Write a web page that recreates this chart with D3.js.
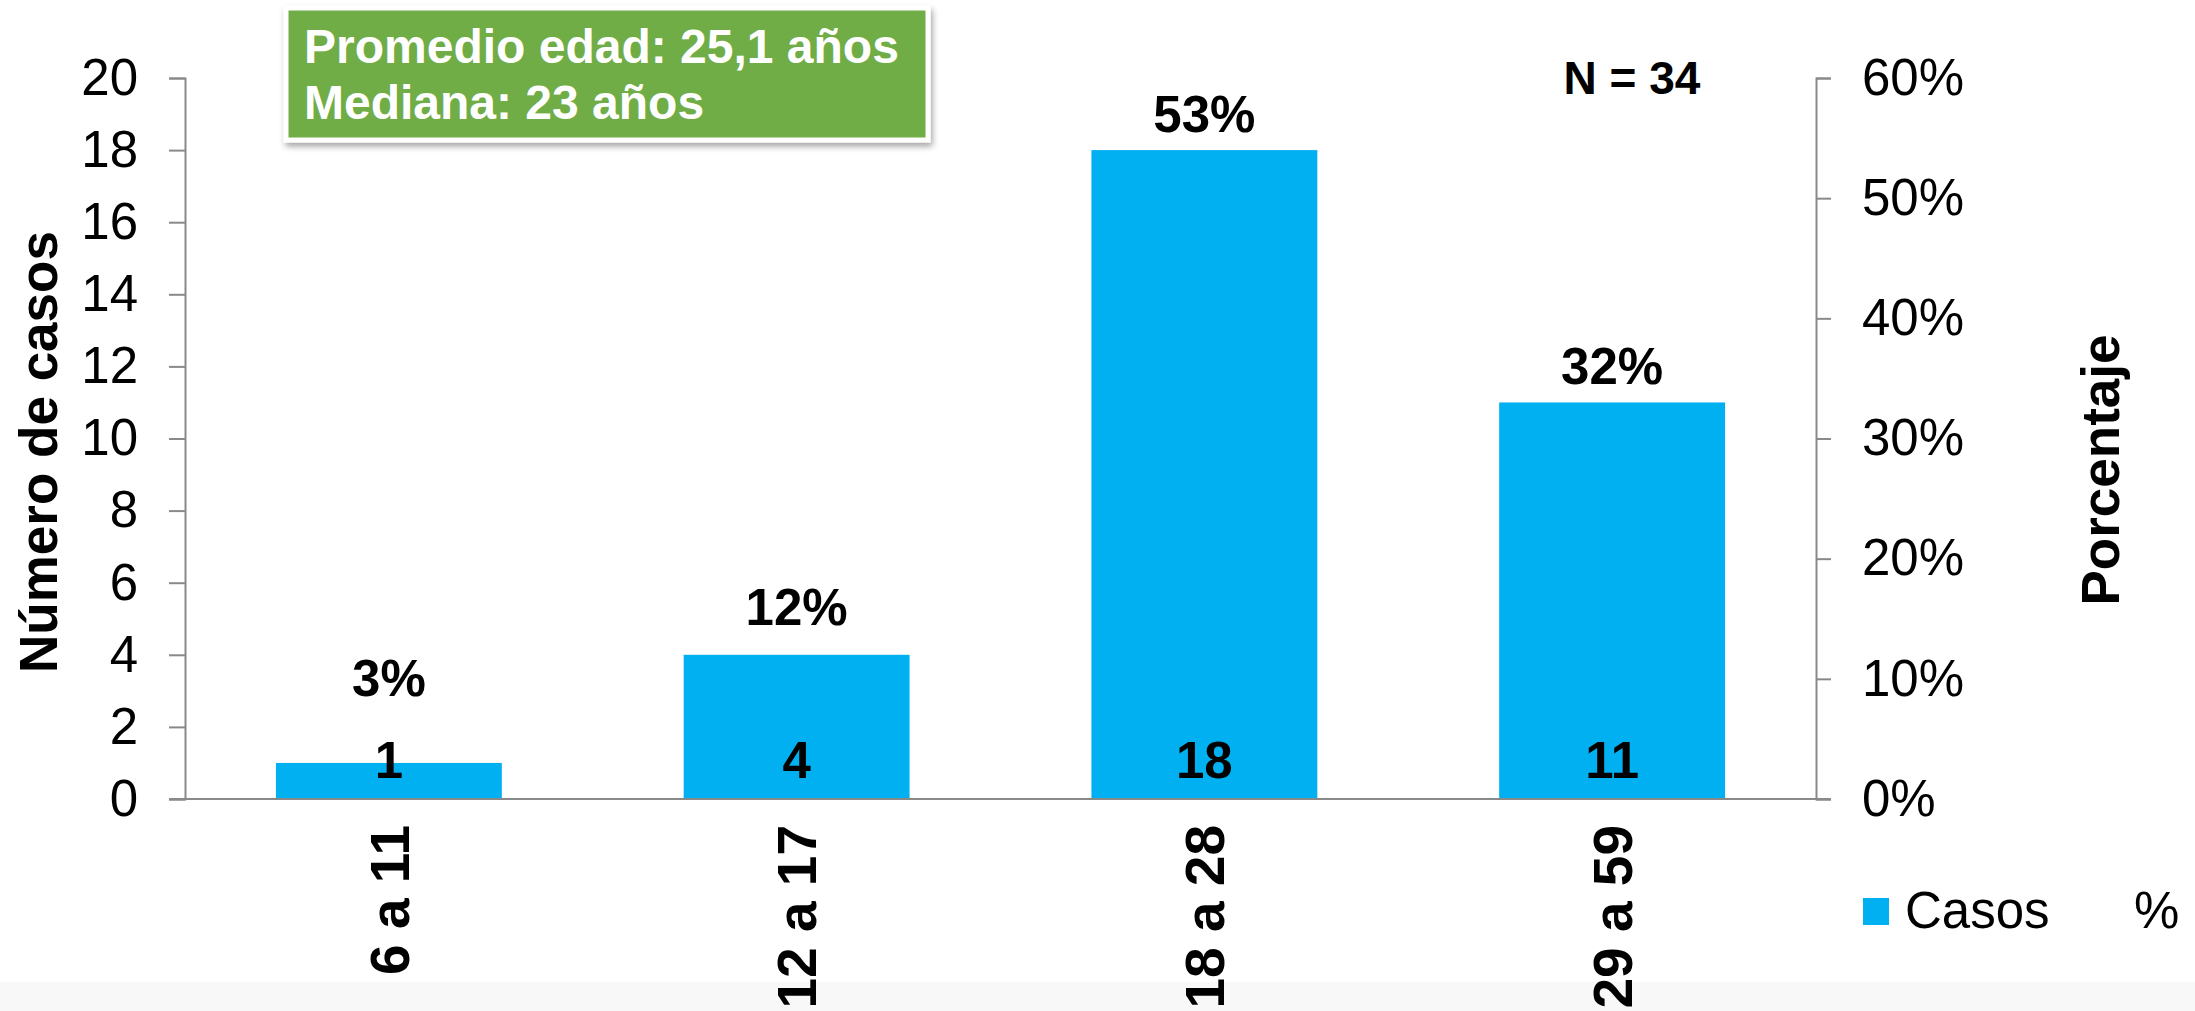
<!DOCTYPE html>
<html>
<head>
<meta charset="utf-8">
<script src="https://cdn.jsdelivr.net/npm/d3@7"></script>
<style>
  body { margin: 0; background: #fff; }
  svg { display: block; font-family: "Liberation Sans", Arial, sans-serif; }
</style>
</head>
<body>
<div id="chart"></div>
<script>
// data
var categories = ["6 a 11", "12 a 17", "18 a 28", "29 a 59"];
var casos = [1, 4, 18, 11];
var porcentaje = [0.03, 0.12, 0.53, 0.32];
var leftTicks = [0, 2, 4, 6, 8, 10, 12, 14, 16, 18, 20];
var rightTicks = [0, 0.1, 0.2, 0.3, 0.4, 0.5, 0.6];
var infoLines = ["Promedio edad: 25,1 años", "Mediana: 23 años"];
var legendItems = ["Casos", "%"];

var W = 2195, H = 1011;
var plotLeft = 185, plotRight = 1816, plotTop = 78, plotBottom = 799;
var axisColor = "#898989";

var svg = d3.select("#chart")
  .append("svg")
    .attr("width", W)
    .attr("height", H);

// faint strip along the bottom
svg.append("rect")
  .attr("x", 0).attr("y", 982)
  .attr("width", W).attr("height", H - 982)
  .attr("fill", "#f8f8f8");

var x = d3.scaleBand()
  .domain(categories)
  .range([plotLeft, plotRight])
  .paddingInner(0.446)
  .paddingOuter(0.223);

var y = d3.scaleLinear().domain([0, 20]).range([plotBottom, plotTop]);
var y2 = d3.scaleLinear().domain([0, 0.6]).range([plotBottom, plotTop]);

// bars
svg.append("g")
  .selectAll("rect")
  .data(casos)
  .enter()
  .append("rect")
    .attr("x", function (d, i) { return x(categories[i]); })
    .attr("y", function (d) { return y(d); })
    .attr("width", x.bandwidth())
    .attr("height", function (d) { return y(0) - y(d); })
    .attr("fill", "#00B0F0");

// left axis
var gl = svg.append("g")
  .attr("transform", "translate(" + plotLeft + ",0)")
  .call(d3.axisLeft(y).tickValues(leftTicks).tickSize(16).tickPadding(31));
// right axis
var gr = svg.append("g")
  .attr("transform", "translate(" + plotRight + ",0)")
  .call(d3.axisRight(y2).tickValues(rightTicks).tickSize(15).tickPadding(31)
    .tickFormat(d3.format(".0%")));

[gl, gr].forEach(function (g) {
  g.select(".domain").attr("stroke", axisColor).attr("stroke-width", 2);
  g.selectAll(".tick line").attr("stroke", axisColor).attr("stroke-width", 2);
  g.selectAll(".tick text")
    .attr("fill", "#000")
    .style("font-size", "51px");
});

// category baseline
svg.append("line")
  .attr("x1", plotLeft - 16).attr("x2", plotRight + 15)
  .attr("y1", plotBottom).attr("y2", plotBottom)
  .attr("stroke", axisColor).attr("stroke-width", 2);

// category labels
svg.append("g")
  .selectAll("text")
  .data(categories)
  .enter()
  .append("text")
    .attr("transform", function (d) {
      return "translate(" + (x(d) + x.bandwidth() / 2) + ",825) rotate(-90)";
    })
    .attr("dy", "0.36em")
    .style("text-anchor", "end")
    .style("font-size", "55px")
    .style("font-weight", "bold")
    .text(function (d) { return d; });

// value labels at the base of the bars
svg.append("g")
  .selectAll("text")
  .data(casos)
  .enter()
  .append("text")
    .attr("x", function (d, i) { return x(categories[i]) + x.bandwidth() / 2; })
    .attr("y", y(0) - 21)
    .style("text-anchor", "middle")
    .style("font-size", "51px")
    .style("font-weight", "bold")
    .text(function (d) { return d; });

// percentage labels
svg.append("g")
  .selectAll("text")
  .data(porcentaje)
  .enter()
  .append("text")
    .attr("x", function (d, i) { return x(categories[i]) + x.bandwidth() / 2; })
    .attr("y", function (d) { return Math.min(y2(d) - 30, y(0) - 103); })
    .style("text-anchor", "middle")
    .style("font-size", "51px")
    .style("font-weight", "bold")
    .text(function (d) { return d3.format(".0%")(d); });

// axis titles
svg.append("text")
  .attr("transform", "translate(38,452) rotate(-90)")
  .attr("dy", "0.36em")
  .style("text-anchor", "middle")
  .style("font-size", "53px")
  .style("font-weight", "bold")
  .text("Número de casos");

svg.append("text")
  .attr("transform", "translate(2100,470) rotate(-90)")
  .attr("dy", "0.36em")
  .style("text-anchor", "middle")
  .style("font-size", "53px")
  .style("font-weight", "bold")
  .text("Porcentaje");

// N
svg.append("text")
  .attr("x", 1632).attr("y", 94)
  .style("text-anchor", "middle")
  .style("font-size", "46px")
  .style("font-weight", "bold")
  .text("N = 34");

// info box with shadow
var defs = svg.append("defs");
var f = defs.append("filter").attr("id", "shadow")
  .attr("x", "-5%").attr("y", "-10%").attr("width", "115%").attr("height", "130%");
f.append("feDropShadow")
  .attr("dx", 2).attr("dy", 4).attr("stdDeviation", 3)
  .attr("flood-color", "#000").attr("flood-opacity", 0.35);

svg.append("rect")
  .attr("x", 286).attr("y", 8)
  .attr("width", 642).attr("height", 132)
  .attr("fill", "#70AD47")
  .attr("stroke", "#fff")
  .attr("stroke-width", 5)
  .attr("filter", "url(#shadow)");

svg.append("g")
  .selectAll("text")
  .data(infoLines)
  .enter()
  .append("text")
    .attr("x", 304)
    .attr("y", function (d, i) { return 63 + i * 56; })
    .attr("fill", "#fff")
    .style("font-size", "48px")
    .style("font-weight", "bold")
    .text(function (d) { return d; });

// legend
var lg = svg.append("g");
lg.append("rect")
  .attr("x", 1863).attr("y", 898)
  .attr("width", 26).attr("height", 27)
  .attr("fill", "#00B0F0");
lg.append("text")
  .attr("x", 1905).attr("y", 928)
  .style("font-size", "51px")
  .text(legendItems[0]);
lg.append("text")
  .attr("x", 2134).attr("y", 928)
  .style("font-size", "51px")
  .text(legendItems[1]);
</script>
</body>
</html>
